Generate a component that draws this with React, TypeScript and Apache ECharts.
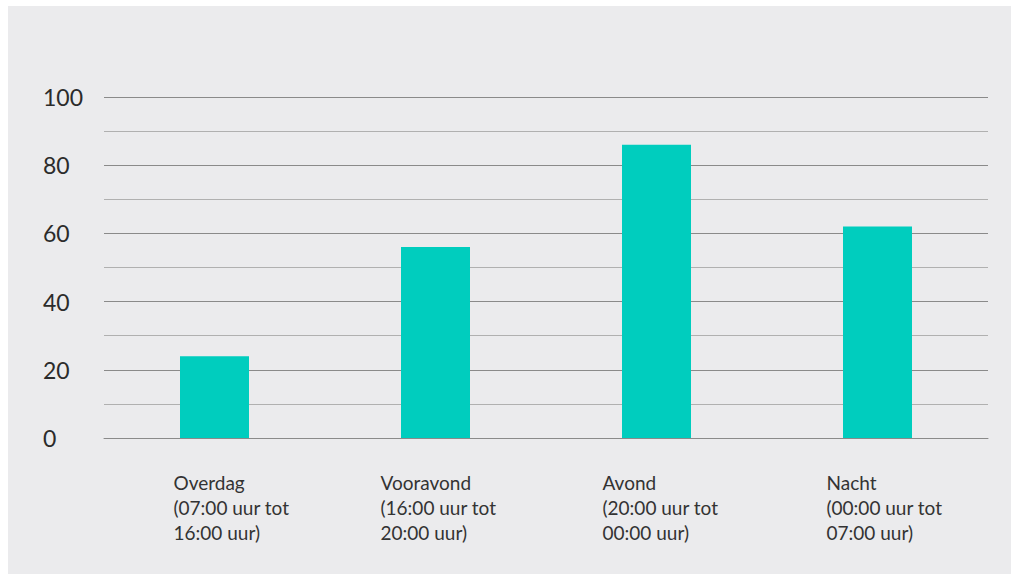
import React, { useEffect, useRef } from "react";
import * as echarts from "echarts";

const categories = [
  "Overdag\n(07:00 uur tot\n16:00 uur)",
  "Vooravond\n(16:00 uur tot\n20:00 uur)",
  "Avond\n(20:00 uur tot\n00:00 uur)",
  "Nacht\n(00:00 uur tot\n07:00 uur)",
];
const values = [24, 56, 86, 62];
const yTicks = [0, 20, 40, 60, 80, 100];
// horizontal shift of each category label relative to its tick (style only)
const labelShift = [-41, -55, -54, -51];

export default function App() {
  const ref = useRef<HTMLDivElement>(null);
  useEffect(() => {
    if (!ref.current) return;
    const chart = echarts.init(ref.current, undefined, { renderer: "svg" });
    chart.setOption({
      animation: false,
      backgroundColor: "#ebebed",
      grid: { left: 96, right: 23, top: 91, bottom: 136, containLabel: false },
      xAxis: {
        type: "category",
        data: categories.map((c, i) => ({
          value: c,
          textStyle: {
            align: "left",
            verticalAlign: "top",
            padding: [0, 0, 0, labelShift[i]],
          },
        })),
        axisLine: { show: true, lineStyle: { color: "#8a8a8a", width: 1 } },
        axisTick: { show: false },
        axisLabel: {
          align: "left",
          verticalAlign: "top",
          margin: 32,
          fontFamily: "Lato",
          fontSize: 19,
          lineHeight: 25,
          color: "#333333",
          interval: 0,
        },
      },
      yAxis: {
        type: "value",
        min: 0,
        max: 100,
        interval: 10,
        axisLine: { show: false },
        axisTick: { show: false },
        splitLine: {
          show: true,
          lineStyle: { color: ["#8a8a8a", "#b0b0b0"], width: 1 },
        },
        axisLabel: {
          align: "left",
          margin: 61,
          fontFamily: "Lato",
          fontSize: 23,
          color: "#2b2b2b",
          formatter: (v: number) => (yTicks.includes(v) ? String(v) : ""),
        },
      },
      series: [
        {
          type: "bar",
          data: values,
          barWidth: 69,
          itemStyle: { color: "#00cdbe" },
        },
      ],
    });
    return () => chart.dispose();
  }, []);
  return (
    <div
      ref={ref}
      style={{ position: "absolute", left: 8, top: 6, width: 1003, height: 568 }}
    />
  );
}
